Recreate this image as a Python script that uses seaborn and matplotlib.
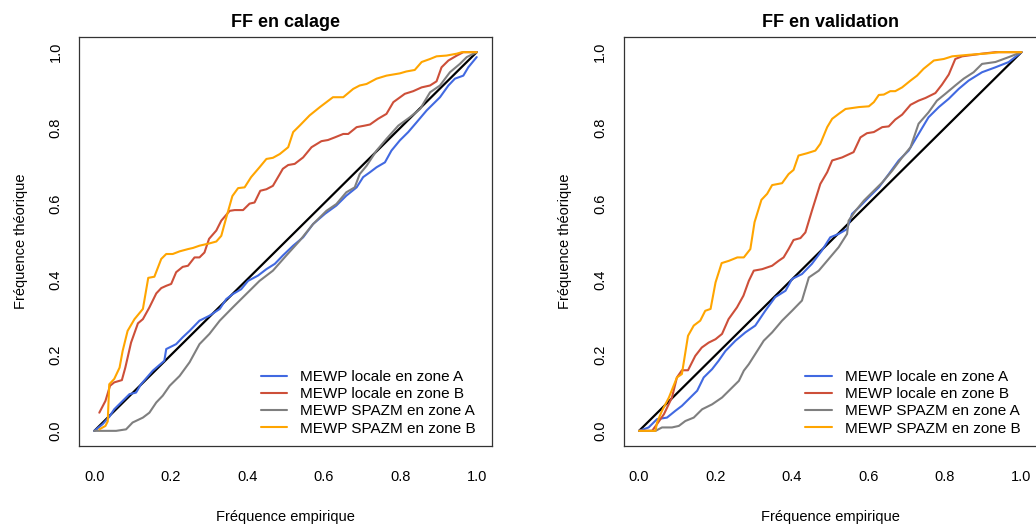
import matplotlib
matplotlib.use("Agg")
import matplotlib.pyplot as plt
import seaborn as sns
import pandas as pd
import numpy as np

# ==========================================
# DATA
# ==========================================
diag = [0.0, 1.0]

# --- FF en calage ---
cal_locA_x = [0.0, 0.022, 0.039, 0.052, 0.074, 0.092, 0.109, 0.122, 0.153, 0.183, 0.188, 0.214,
              0.231, 0.249, 0.275, 0.301, 0.328, 0.345, 0.362, 0.384, 0.402, 0.428, 0.450, 0.472,
              0.493, 0.520, 0.546, 0.572, 0.603, 0.633, 0.659, 0.686, 0.703, 0.721, 0.738, 0.760,
              0.777, 0.799, 0.821, 0.843, 0.869, 0.886, 0.904, 0.926, 0.943, 0.965, 0.978, 1.0]
cal_locA_y = [0.0, 0.018, 0.037, 0.057, 0.079, 0.097, 0.101, 0.123, 0.159, 0.185, 0.216, 0.229,
              0.247, 0.264, 0.291, 0.304, 0.322, 0.348, 0.361, 0.374, 0.396, 0.410, 0.427, 0.441,
              0.463, 0.489, 0.511, 0.546, 0.573, 0.595, 0.621, 0.643, 0.670, 0.683, 0.696, 0.709,
              0.740, 0.767, 0.789, 0.815, 0.846, 0.863, 0.881, 0.912, 0.930, 0.938, 0.960, 0.987]

cal_locB_x = [0.013, 0.029, 0.041, 0.052, 0.072, 0.081, 0.096, 0.114, 0.127, 0.144, 0.162, 0.175,
              0.188, 0.201, 0.214, 0.231, 0.245, 0.262, 0.275, 0.288, 0.300, 0.319, 0.332, 0.354,
              0.367, 0.389, 0.406, 0.419, 0.434, 0.450, 0.467, 0.485, 0.493, 0.507, 0.524, 0.546,
              0.568, 0.594, 0.611, 0.629, 0.651, 0.664, 0.686, 0.707, 0.721, 0.742, 0.764, 0.782,
              0.812, 0.834, 0.856, 0.878, 0.895, 0.908, 0.926, 0.948, 0.965, 1.0]
cal_locB_y = [0.048, 0.079, 0.119, 0.128, 0.134, 0.167, 0.233, 0.284, 0.295, 0.326, 0.363, 0.377,
              0.383, 0.388, 0.419, 0.433, 0.436, 0.458, 0.458, 0.471, 0.507, 0.529, 0.555, 0.581,
              0.583, 0.583, 0.600, 0.603, 0.634, 0.638, 0.647, 0.678, 0.692, 0.702, 0.705, 0.722,
              0.749, 0.765, 0.768, 0.775, 0.784, 0.784, 0.802, 0.806, 0.809, 0.824, 0.837, 0.868,
              0.890, 0.897, 0.907, 0.912, 0.923, 0.960, 0.978, 0.991, 1.0, 1.0]

cal_spaA_x = [0.0, 0.057, 0.083, 0.100, 0.127, 0.144, 0.162, 0.179, 0.197, 0.223, 0.249, 0.275,
              0.301, 0.328, 0.362, 0.397, 0.432, 0.467, 0.502, 0.537, 0.572, 0.607, 0.633, 0.659,
              0.681, 0.694, 0.712, 0.738, 0.764, 0.795, 0.825, 0.852, 0.878, 0.904, 0.930, 0.956,
              0.974, 1.0]
cal_spaA_y = [0.0, 0.0, 0.004, 0.022, 0.035, 0.048, 0.075, 0.093, 0.119, 0.145, 0.181, 0.229,
              0.256, 0.291, 0.326, 0.361, 0.396, 0.423, 0.463, 0.502, 0.546, 0.581, 0.599, 0.630,
              0.643, 0.678, 0.700, 0.740, 0.771, 0.806, 0.828, 0.850, 0.894, 0.912, 0.947, 0.969,
              0.987, 1.0]

cal_spaB_x = [0.013, 0.029, 0.035, 0.039, 0.052, 0.066, 0.074, 0.087, 0.105, 0.127, 0.141, 0.157,
              0.175, 0.188, 0.205, 0.223, 0.245, 0.258, 0.275, 0.301, 0.319, 0.332, 0.345, 0.361,
              0.376, 0.393, 0.410, 0.432, 0.450, 0.467, 0.485, 0.507, 0.520, 0.537, 0.563, 0.590,
              0.624, 0.651, 0.677, 0.694, 0.712, 0.738, 0.764, 0.799, 0.816, 0.838, 0.856, 0.878,
              0.895, 0.921, 0.948, 0.961, 1.0]
cal_spaB_y = [0.004, 0.013, 0.025, 0.123, 0.137, 0.167, 0.211, 0.264, 0.295, 0.322, 0.404, 0.407,
              0.454, 0.467, 0.467, 0.474, 0.480, 0.483, 0.489, 0.495, 0.500, 0.515, 0.563, 0.620,
              0.641, 0.643, 0.670, 0.696, 0.718, 0.721, 0.731, 0.749, 0.789, 0.806, 0.833, 0.855,
              0.881, 0.881, 0.903, 0.912, 0.916, 0.930, 0.938, 0.944, 0.949, 0.953, 0.974, 0.982,
              0.989, 0.991, 0.996, 1.0, 1.0]

# --- FF en validation ---
val_locA_x = [0.0, 0.025, 0.047, 0.073, 0.095, 0.112, 0.130, 0.152, 0.169, 0.191, 0.208, 0.226,
              0.252, 0.278, 0.304, 0.330, 0.356, 0.383, 0.400, 0.426, 0.452, 0.478, 0.500, 0.522,
              0.544, 0.557, 0.575, 0.601, 0.627, 0.653, 0.679, 0.705, 0.731, 0.757, 0.784, 0.810,
              0.836, 0.862, 0.897, 0.932, 0.967, 1.0]
val_locA_y = [0.0, 0.009, 0.031, 0.035, 0.053, 0.066, 0.084, 0.106, 0.141, 0.163, 0.185, 0.211,
              0.238, 0.260, 0.278, 0.317, 0.353, 0.370, 0.401, 0.414, 0.441, 0.476, 0.511, 0.520,
              0.533, 0.573, 0.590, 0.617, 0.643, 0.678, 0.714, 0.740, 0.784, 0.828, 0.855, 0.877,
              0.903, 0.925, 0.947, 0.960, 0.974, 1.0]

val_locB_x = [0.0, 0.034, 0.047, 0.065, 0.086, 0.099, 0.112, 0.128, 0.147, 0.164, 0.182, 0.200,
              0.217, 0.234, 0.256, 0.273, 0.287, 0.300, 0.322, 0.348, 0.365, 0.378, 0.391, 0.404,
              0.422, 0.435, 0.452, 0.474, 0.492, 0.505, 0.531, 0.561, 0.579, 0.596, 0.614, 0.636,
              0.653, 0.670, 0.688, 0.710, 0.731, 0.749, 0.775, 0.792, 0.810, 0.827, 0.845, 0.897,
              0.932, 1.0]
val_locB_y = [0.0, 0.0, 0.018, 0.044, 0.088, 0.141, 0.160, 0.160, 0.198, 0.220, 0.233, 0.242,
              0.256, 0.295, 0.326, 0.357, 0.396, 0.423, 0.427, 0.436, 0.449, 0.458, 0.480, 0.504,
              0.509, 0.524, 0.581, 0.652, 0.683, 0.714, 0.722, 0.736, 0.775, 0.786, 0.789, 0.802,
              0.804, 0.822, 0.835, 0.861, 0.872, 0.879, 0.892, 0.914, 0.941, 0.982, 0.989, 0.996,
              1.0, 1.0]

val_spaA_x = [0.0, 0.043, 0.060, 0.086, 0.104, 0.121, 0.143, 0.165, 0.191, 0.217, 0.235, 0.261,
              0.274, 0.287, 0.304, 0.326, 0.348, 0.374, 0.400, 0.426, 0.444, 0.470, 0.496, 0.522,
              0.544, 0.548, 0.566, 0.588, 0.610, 0.636, 0.662, 0.688, 0.710, 0.731, 0.757, 0.779,
              0.801, 0.827, 0.849, 0.875, 0.897, 0.932, 0.967, 1.0]
val_spaA_y = [0.0, 0.0, 0.009, 0.009, 0.013, 0.026, 0.035, 0.057, 0.070, 0.088, 0.106, 0.132,
              0.159, 0.176, 0.203, 0.238, 0.260, 0.291, 0.317, 0.344, 0.405, 0.423, 0.454, 0.485,
              0.520, 0.555, 0.581, 0.608, 0.630, 0.656, 0.687, 0.722, 0.749, 0.811, 0.841, 0.872,
              0.890, 0.912, 0.930, 0.947, 0.969, 0.974, 0.987, 1.0]

val_spaB_x = [0.0, 0.043, 0.047, 0.060, 0.078, 0.099, 0.112, 0.128, 0.143, 0.160, 0.173, 0.187,
              0.200, 0.216, 0.235, 0.257, 0.274, 0.291, 0.302, 0.320, 0.335, 0.348, 0.374, 0.391,
              0.404, 0.417, 0.439, 0.461, 0.474, 0.492, 0.505, 0.522, 0.540, 0.575, 0.601, 0.614,
              0.627, 0.640, 0.657, 0.670, 0.688, 0.710, 0.727, 0.744, 0.771, 0.797, 0.819, 0.862,
              0.915, 0.941, 1.0]
val_spaB_y = [0.0, 0.0, 0.022, 0.053, 0.088, 0.141, 0.150, 0.251, 0.278, 0.291, 0.317, 0.322,
              0.392, 0.443, 0.449, 0.458, 0.458, 0.480, 0.551, 0.610, 0.626, 0.649, 0.654, 0.678,
              0.689, 0.727, 0.733, 0.740, 0.758, 0.802, 0.824, 0.837, 0.850, 0.855, 0.857, 0.868,
              0.887, 0.888, 0.897, 0.897, 0.907, 0.925, 0.938, 0.956, 0.978, 0.982, 0.989, 0.993,
              0.997, 1.0, 1.0]

labels = ["MEWP locale en zone A", "MEWP locale en zone B",
          "MEWP SPAZM en zone A", "MEWP SPAZM en zone B"]
colors = ["#4169E1", "#CD4F39", "#7F7F7F", "#FFA500"]

panels = [
    ("FF en calage", [(cal_locA_x, cal_locA_y), (cal_locB_x, cal_locB_y),
                      (cal_spaA_x, cal_spaA_y), (cal_spaB_x, cal_spaB_y)]),
    ("FF en validation", [(val_locA_x, val_locA_y), (val_locB_x, val_locB_y),
                          (val_spaA_x, val_spaA_y), (val_spaB_x, val_spaB_y)]),
]

# ==========================================
# PLOT
# ==========================================
sns.set_theme(style="white")
plt.rcParams['font.family'] = ['Liberation Sans', 'DejaVu Sans']
plt.rcParams['text.color'] = 'black'
plt.rcParams['axes.labelcolor'] = 'black'

fig = plt.figure(figsize=(10.36, 5.28), dpi=100)
ax_pos = [[0.0763, 0.1553, 0.3986, 0.7746], [0.6021, 0.1553, 0.3986, 0.7746]]

for pos, (title, series) in zip(ax_pos, panels):
    ax = fig.add_axes(pos)
    sns.lineplot(x=diag, y=diag, color="black", linewidth=1.6, ax=ax, estimator=None)
    for (xs, ys), lab, col in zip(series, labels, colors):
        df = pd.DataFrame({"x": xs, "y": ys})
        sns.lineplot(data=df, x="x", y="y", color=col, linewidth=1.5, label=lab,
                     ax=ax, estimator=None, sort=False)

    ax.set_xlim(-0.04, 1.04)
    ax.set_ylim(-0.04, 1.04)
    ticks = np.arange(0, 1.01, 0.2)
    ax.set_xticks(ticks)
    ax.set_yticks(ticks)
    ax.set_xticklabels([f"{v:.1f}" for v in ticks])
    ax.set_yticklabels([f"{v:.1f}" for v in ticks], rotation=90, va="center")
    ax.tick_params(axis="both", direction="out", length=5, width=0.9,
                   color="#333333", labelsize=10.5, labelcolor="black")
    ax.tick_params(axis="x", pad=12)
    ax.tick_params(axis="y", pad=7)
    for sp in ax.spines.values():
        sp.set_visible(True)
        sp.set_color("#333333")
        sp.set_linewidth(0.9)
    ax.grid(False)

    ax.set_title(title, fontsize=13, fontweight="bold", pad=7.5, color="black")
    ax.set_xlabel("Fréquence empirique", fontsize=10.5, labelpad=19)
    ax.set_ylabel("Fréquence théorique", fontsize=10.5, labelpad=15)

    ax.legend(loc="upper left", bbox_to_anchor=(0.44, 0.185), frameon=False,
              fontsize=11, handlelength=1.75, handletextpad=0.85,
              labelspacing=0.2, borderpad=0, borderaxespad=0)

fig.savefig("out.png", dpi=100)
